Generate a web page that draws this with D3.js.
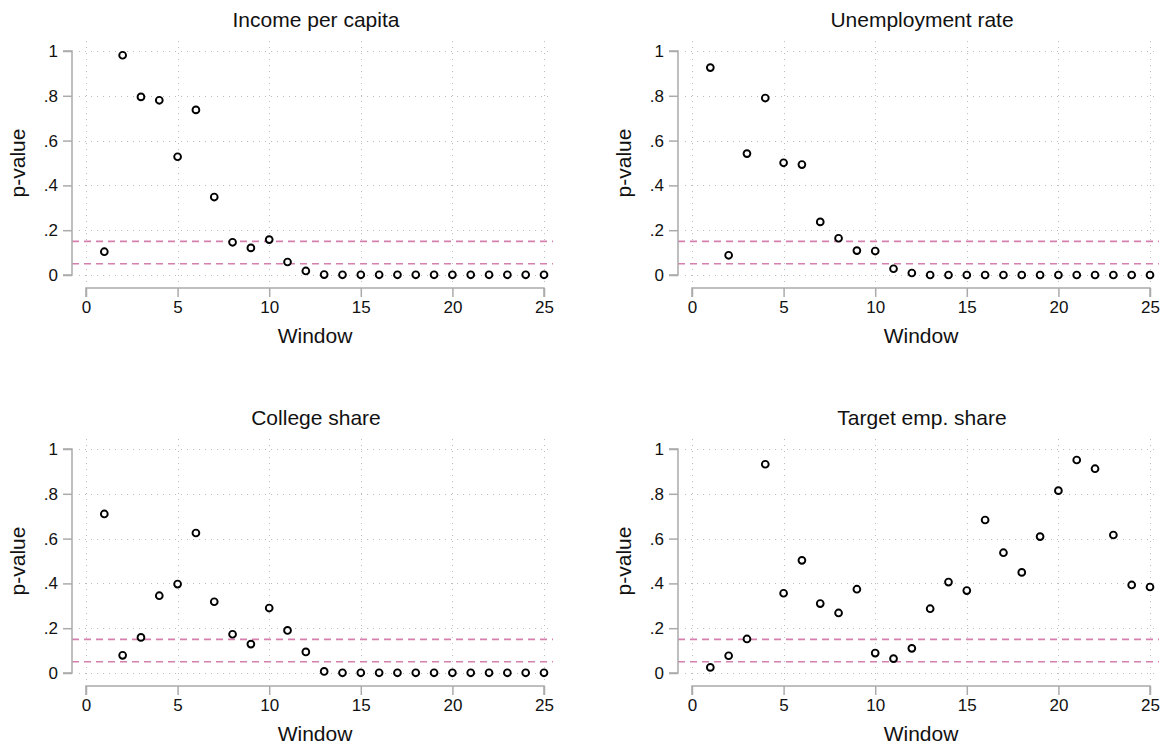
<!DOCTYPE html>
<html>
<head>
<meta charset="utf-8">
<script src="https://cdn.jsdelivr.net/npm/d3@7"></script>
<style>
  html, body { margin: 0; padding: 0; background: #fff; }
  svg { display: block; font-family: Arial, "Liberation Sans", Helvetica, sans-serif; }
</style>
</head>
<body>
<svg id="chart" width="1166" height="748"></svg>
<script>
// Window index shared by all four panels
const windows = [1, 2, 3, 4, 5, 6, 7, 8, 9, 10, 11, 12, 13, 14, 15, 16, 17, 18, 19, 20, 21, 22, 23, 24, 25];

// p-values per window for each outcome
const incomePerCapita = [0.104, 0.981, 0.795, 0.780, 0.528, 0.737, 0.348, 0.146, 0.121, 0.158,
  0.058, 0.018, 0.002, 0.001, 0.001, 0.001, 0.001, 0.001, 0.001, 0.001, 0.001, 0.001, 0.001, 0.001, 0.001];
const unemploymentRate = [0.926, 0.088, 0.542, 0.790, 0.501, 0.493, 0.237, 0.164, 0.109, 0.107,
  0.028, 0.009, 0.000, 0.000, 0.000, 0.000, 0.000, 0.000, 0.000, 0.000, 0.000, 0.000, 0.000, 0.000, 0.000];
const collegeShare = [0.710, 0.079, 0.159, 0.345, 0.397, 0.625, 0.318, 0.173, 0.129, 0.290,
  0.190, 0.094, 0.007, 0.001, 0.001, 0.001, 0.001, 0.001, 0.001, 0.001, 0.001, 0.001, 0.001, 0.001, 0.001];
const targetEmpShare = [0.025, 0.077, 0.152, 0.932, 0.356, 0.503, 0.310, 0.268, 0.374, 0.089,
  0.064, 0.110, 0.287, 0.406, 0.368, 0.683, 0.537, 0.449, 0.609, 0.814, 0.951, 0.912, 0.616, 0.393, 0.384];

const panelTitles = ["Income per capita", "Unemployment rate", "College share", "Target emp. share"];
const panelSeries = [incomePerCapita, unemploymentRate, collegeShare, targetEmpShare];

// Axis ticks and reference lines
const yTickValues = [0, 0.2, 0.4, 0.6, 0.8, 1];
const yTickLabels = ["0", ".2", ".4", ".6", ".8", "1"];
const xTickValues = [0, 5, 10, 15, 20, 25];
const thresholds = [0.05, 0.15];
const xTitle = "Window";
const yTitle = "p-value";

// Panel placement (grid of 2 x 2)
const colLeft = [72, 678];     // y-axis line x per column
const rowTop = [51, 449];      // y = 1 position per row
const xSpan = 458;             // pixel length of window 0..25
const ySpan = 224;             // pixel length of p-value 0..1

const svg = d3.select("#chart");

panelSeries.forEach((values, i) => {
  const col = i % 2, row = Math.floor(i / 2);
  const axisX = colLeft[col];
  const x0 = axisX + 14;
  const yTop = rowTop[row];

  const x = d3.scaleLinear().domain([0, 25]).range([x0, x0 + xSpan]);
  const y = d3.scaleLinear().domain([0, 1]).range([yTop + ySpan, yTop]);

  // plot region edges
  const regionLeft = x0 - 7, regionRight = x(25) + 9;
  const regionTop = y(1) - 10, regionBottom = y(0) + 8;

  const g = svg.append("g");

  // dotted grid
  const grid = g.append("g")
    .attr("stroke", "#bdbdbd").attr("stroke-width", 1)
    .attr("stroke-dasharray", "1,5").attr("fill", "none");
  grid.selectAll("line.h").data(yTickValues).join("line").attr("class", "h")
    .attr("x1", regionLeft).attr("x2", regionRight)
    .attr("y1", d => Math.round(y(d)) + 0.5).attr("y2", d => Math.round(y(d)) + 0.5);
  grid.selectAll("line.v").data(xTickValues).join("line").attr("class", "v")
    .attr("x1", d => Math.round(x(d)) + 0.5).attr("x2", d => Math.round(x(d)) + 0.5)
    .attr("y1", regionTop).attr("y2", regionBottom);

  // threshold lines
  g.append("g").selectAll("line").data(thresholds).join("line")
    .attr("x1", axisX).attr("x2", regionRight)
    .attr("y1", d => y(d)).attr("y2", d => y(d))
    .attr("stroke", "#d47fae").attr("stroke-width", 1.6)
    .attr("stroke-dasharray", "7,5");

  // y axis
  const yAxis = d3.axisLeft(y).tickValues(yTickValues)
    .tickFormat((d, k) => yTickLabels[k]).tickSize(9).tickPadding(5);
  const yg = g.append("g").attr("transform", `translate(${axisX},0)`).call(yAxis);
  yg.select(".domain").attr("d", `M-9,${y(1)}H0V${y(0)}H-9`);

  // x axis
  const xAxisY = y(0) + 13;
  const xAxis = d3.axisBottom(x).tickValues(xTickValues).tickSize(9).tickPadding(4);
  const xg = g.append("g").attr("transform", `translate(0,${xAxisY})`).call(xAxis);
  xg.select(".domain").attr("d", `M${x(0)},9V0H${x(25)}V9`);

  [yg, xg].forEach(ax => {
    ax.select(".domain").attr("stroke", "#ababab").attr("stroke-width", 1.5).attr("fill", "none");
    ax.selectAll(".tick line").attr("stroke", "#ababab").attr("stroke-width", 1.5);
    ax.selectAll(".tick text").attr("fill", "#111").style("font-size", "17px")
      .style("font-family", "Arial, 'Liberation Sans', sans-serif");
  });

  // markers
  g.append("g").selectAll("circle").data(values).join("circle")
    .attr("cx", (d, k) => x(windows[k]))
    .attr("cy", d => y(d))
    .attr("r", 3.4)
    .attr("fill", "#fff").attr("stroke", "#000").attr("stroke-width", 1.9);

  // titles
  g.append("text")
    .attr("x", (regionLeft + regionRight) / 2).attr("y", y(1) - 24)
    .attr("text-anchor", "middle").style("font-size", "21px").attr("fill", "#111")
    .text(panelTitles[i]);

  g.append("text")
    .attr("x", (x(0) + x(25)) / 2).attr("y", xAxisY + 55)
    .attr("text-anchor", "middle").style("font-size", "21px").attr("fill", "#111")
    .text(xTitle);

  g.append("text")
    .attr("transform", `translate(${axisX - 47},${(y(0) + y(1)) / 2}) rotate(-90)`)
    .attr("text-anchor", "middle").style("font-size", "21px").attr("fill", "#111")
    .text(yTitle);
});
</script>
</body>
</html>
